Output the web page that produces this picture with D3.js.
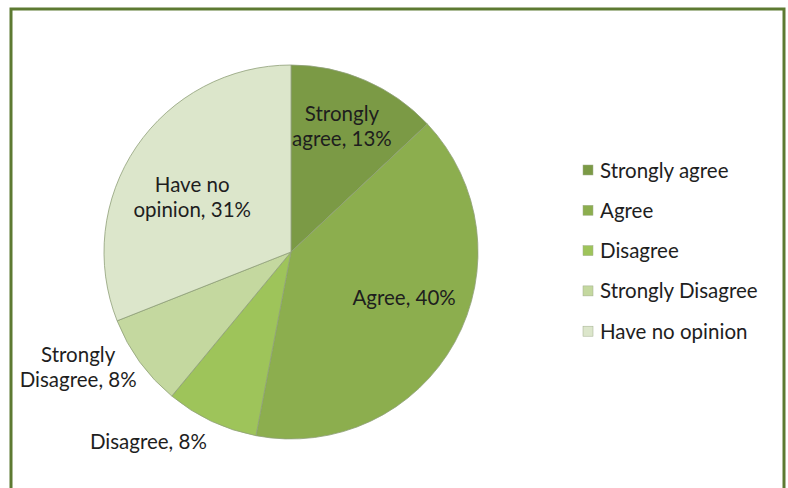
<!DOCTYPE html>
<html>
<head>
<meta charset="utf-8">
<script src="https://cdn.jsdelivr.net/npm/d3@7"></script>
<style>
  html, body { margin: 0; padding: 0; background: #ffffff; }
  svg { display: block; }
  text { font-family: Lato, "Open Sans", sans-serif; fill: #1e1e1e; }
</style>
</head>
<body>
<svg id="chart" width="788" height="488"></svg>
<script>
// Survey responses
const categories = ["Strongly agree", "Agree", "Disagree", "Strongly Disagree", "Have no opinion"];
const percents = [13, 40, 8, 8, 31];
const colors = ["#7b9a45", "#8cae4e", "#9ec45a", "#c4d89f", "#dce6cb"];

// Label lines for each slice
const labelLines = [
  ["Strongly", "agree, 13%"],
  ["Agree, 40%"],
  ["Disagree, 8%"],
  ["Strongly", "Disagree, 8%"],
  ["Have no", "opinion, 31%"]
];

// Label anchor (angle in degrees clockwise from 12 o'clock, distance from centre)
const labelPlacement = [
  { a: 22, r: 136 },
  { a: 112, r: 122 },
  { a: 217, r: 237 },
  { a: 241.6, r: 242 },
  { a: 299, r: 113 }
];

const svg = d3.select("#chart");
const cx = 291, cy = 252, R = 187;

// Frame
svg.append("rect")
  .attr("x", 11).attr("y", 9)
  .attr("width", 773).attr("height", 520)
  .attr("fill", "#ffffff")
  .attr("stroke", "#5d7a32")
  .attr("stroke-width", 3);

const pie = d3.pie().sort(null).value(d => d.v);
const arcs = pie(categories.map((c, i) => ({ c, v: percents[i], i })));
const arc = d3.arc().innerRadius(0).outerRadius(R);

const g = svg.append("g").attr("transform", `translate(${cx},${cy})`);

g.selectAll("path.slice")
  .data(arcs)
  .join("path")
  .attr("class", "slice")
  .attr("d", arc)
  .attr("fill", d => colors[d.data.i])
  .attr("stroke", "#8f9f78")
  .attr("stroke-width", 0.8);

// Slice labels
const fs = 20.5, lh = 25;
const labels = g.selectAll("text.lbl")
  .data(arcs)
  .join("text")
  .attr("class", "lbl")
  .attr("text-anchor", "middle")
  .attr("font-size", fs)
  .attr("transform", d => {
    const p = labelPlacement[d.data.i];
    const rad = p.a * Math.PI / 180;
    return `translate(${p.r * Math.sin(rad)},${-p.r * Math.cos(rad)})`;
  });

labels.each(function(d) {
  const lines = labelLines[d.data.i];
  const t = d3.select(this);
  const y0 = -((lines.length - 1) * lh) / 2 + fs * 0.36;
  lines.forEach((ln, k) => {
    t.append("tspan").attr("x", 0).attr("y", y0 + k * lh).text(ln);
  });
});

// Legend
const legend = svg.append("g").attr("transform", "translate(583,170)");
const rows = legend.selectAll("g")
  .data(categories)
  .join("g")
  .attr("transform", (d, i) => `translate(0,${i * 40.3})`);

rows.append("rect")
  .attr("x", 0).attr("y", -5)
  .attr("width", 10).attr("height", 10)
  .attr("fill", (d, i) => colors[i])
  .attr("stroke", "#a0ad8c")
  .attr("stroke-width", 0.5);

rows.append("text")
  .attr("x", 17).attr("y", 7.5)
  .attr("font-size", fs)
  .text(d => d);
</script>
</body>
</html>
